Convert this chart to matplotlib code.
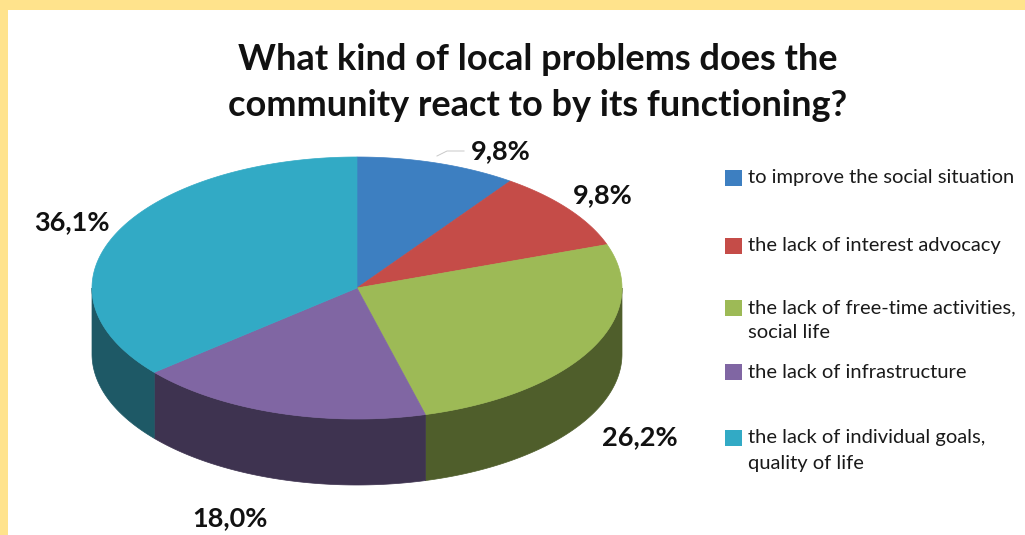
import numpy as np
import matplotlib.pyplot as plt
from matplotlib.patches import Polygon, Rectangle

# survey shares, clockwise from 12 o'clock
categories = ["to improve the social situation",
              "the lack of interest advocacy",
              "the lack of free-time activities,\nsocial life",
              "the lack of infrastructure",
              "the lack of individual goals,\nquality of life"]
values = [9.8, 9.8, 26.2, 18.0, 36.1]
value_labels = ["9,8%", "9,8%", "26,2%", "18,0%", "36,1%"]

top_colors = ["#3d7fc1", "#c54c48", "#9dba56", "#8066a3", "#32aac5"]
side_colors = ["#1f4468", "#6b2826", "#4f5e2b", "#3e3350", "#1e5966"]

W, H = 1025, 535
FONT = "Lato"

fig = plt.figure(figsize=(W / 100, H / 100), dpi=100)
fig.patch.set_facecolor("#ffe38c")
ax = fig.add_axes([0, 0, 1, 1])
ax.set_xlim(0, W)
ax.set_ylim(H, 0)
ax.axis("off")

# white panel inside the yellow frame
ax.add_patch(Rectangle((8, 10), W, H, facecolor="white", edgecolor="none", zorder=0))

ax.text(538, 59, "What kind of local problems does the", ha="center", va="center",
        fontsize=26, fontweight="bold", family=FONT, color="#111111")
ax.text(538, 106, "community react to by its functioning?", ha="center", va="center",
        fontsize=26, fontweight="bold", family=FONT, color="#111111")

# pie geometry (pixels)
cx, cy = 357, 288
rx, ry = 265, 131
depth = 66

total = sum(values)
bounds = 90 - 360 * np.concatenate([[0], np.cumsum(values)]) / total


def ell(t, dy=0.0):
    r = np.radians(t)
    return np.column_stack([cx + rx * np.cos(r), cy - ry * np.sin(r) + dy])


# visible side walls (front half only)
for i in range(len(values)):
    hi, lo = bounds[i], bounds[i + 1]
    a, b = max(lo, -180), min(hi, 0)
    if a >= b:
        continue
    t = np.linspace(b, a, 120)
    pts = np.vstack([ell(t), ell(t[::-1], depth)])
    ax.add_patch(Polygon(pts, closed=True, facecolor=side_colors[i],
                         edgecolor=side_colors[i], linewidth=0.5, zorder=2))

# top faces
for i in range(len(values)):
    t = np.linspace(bounds[i], bounds[i + 1], 200)
    pts = np.vstack([[cx, cy], ell(t)])
    ax.add_patch(Polygon(pts, closed=True, facecolor=top_colors[i],
                         edgecolor=top_colors[i], linewidth=0.5, zorder=3))

# data labels
label_pos = [(501, 151), (603, 195), (640, 437), (230, 518), (72, 222)]
for (x, y), s in zip(label_pos, value_labels):
    ax.text(x, y, s, ha="center", va="center", fontsize=19.5, fontweight="bold",
            family=FONT, color="#111111", zorder=5)
ax.plot([437, 447, 464], [156, 151, 151], color="#c8c8c8", linewidth=0.7, zorder=4)

# legend
legend_y = [178, 246, 308, 372, 438]
for y, c, s in zip(legend_y, top_colors, categories):
    ax.add_patch(Rectangle((725, y - 8), 17, 16, facecolor=c, edgecolor="none", zorder=5))
    for k, line in enumerate(s.split("\n")):
        ax.text(748, y + 25 * k, line, ha="left", va="center", fontsize=14.5,
                family=FONT, color="#1a1a1a", zorder=5)

fig.savefig("out.png", dpi=100, facecolor=fig.get_facecolor())
